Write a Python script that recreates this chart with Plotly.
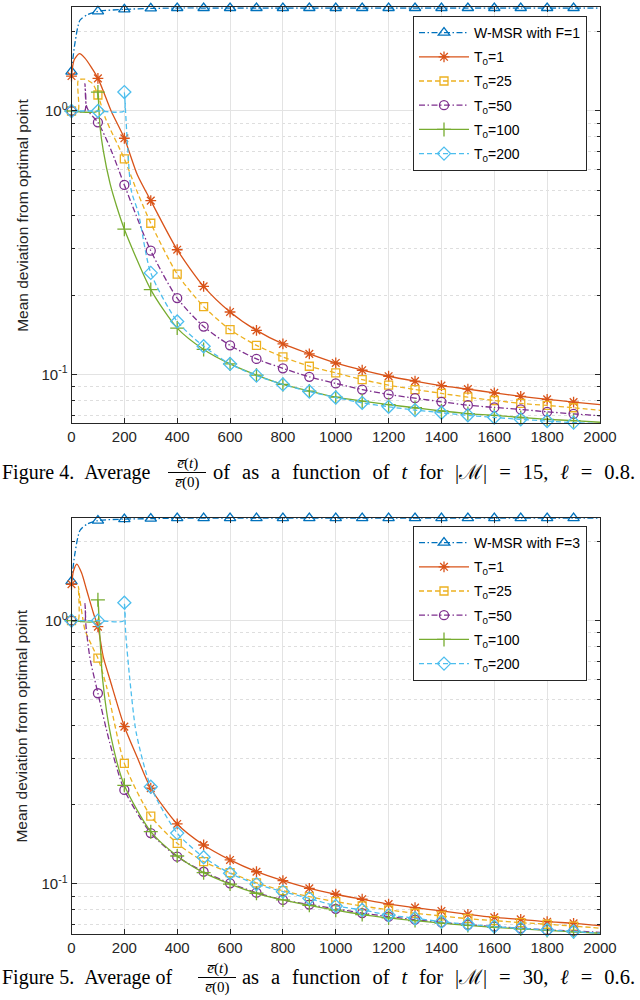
import plotly.graph_objects as go

# sample times on the regular part of the runs
GRID300 = [300, 400, 500, 600, 700, 800, 900, 1000, 1100, 1200,
           1300, 1400, 1500, 1600, 1700, 1800, 1900, 2000]

# ---------------- Figure 4 (|M| = 15, l = 0.8) ----------------
wmsr4_t = [0, 13, 32, 60, 100, 200] + GRID300
wmsr4_y = [1.41, 1.81, 2.21, 2.32, 2.39, 2.43,
           2.45, 2.46, 2.46, 2.46, 2.46, 2.46, 2.46, 2.46, 2.46, 2.46,
           2.46, 2.46, 2.46, 2.46, 2.46, 2.46, 2.46, 2.46]

t1_4_t = [0, 10, 30, 50, 100, 150, 200, 250] + GRID300
t1_4_y = [1.357, 1.56, 1.65, 1.59, 1.33, 1.0, 0.788, 0.57,
          0.457, 0.2975, 0.216, 0.1727, 0.147, 0.1306, 0.1198, 0.1106, 0.1038,
          0.0985, 0.0944, 0.0908, 0.0880, 0.0852, 0.0826, 0.0805, 0.0786, 0.0768]

t25_4_t = [0, 25, 26, 50, 80, 100, 130, 200, 250] + GRID300
t25_4_y = [1.0, 1.0, 1.31, 1.32, 1.27, 1.15, 0.93, 0.658, 0.49,
           0.375, 0.2406, 0.181, 0.148, 0.129, 0.1166, 0.1075, 0.1014, 0.0957,
           0.0911, 0.0877, 0.0848, 0.082, 0.0797, 0.0777, 0.0763, 0.0748, 0.0731]

t50_4_t = [0, 50, 51, 56, 70, 100, 150, 200] + GRID300
t50_4_y = [1.0, 1.0, 1.27, 1.05, 0.98, 0.906, 0.71, 0.524,
           0.295, 0.195, 0.152, 0.129, 0.1146, 0.1056, 0.098, 0.0925, 0.0877,
           0.084, 0.0813, 0.0788, 0.0765, 0.075, 0.0737, 0.0722, 0.0709, 0.0697]

t100_4_t = [0, 99, 100, 108, 120, 146, 171, 200] + GRID300
t100_4_y = [1.0, 1.0, 1.18, 0.87, 0.71, 0.53, 0.434, 0.356,
            0.21, 0.150, 0.1245, 0.1097, 0.0995, 0.0917, 0.0865, 0.082, 0.0793,
            0.0768, 0.0748, 0.0727, 0.0711, 0.070, 0.0687, 0.0676, 0.0668, 0.0659]

t200_4_t = [0, 100, 199, 200, 210, 226, 253] + GRID300
t200_4_y = [1.0, 1.0, 1.0, 1.18, 0.8, 0.5, 0.41,
            0.243, 0.159, 0.128, 0.1097, 0.099, 0.0917, 0.0862, 0.0818, 0.0781,
            0.0754, 0.0733, 0.0716, 0.070, 0.0687, 0.0676, 0.0666, 0.0657, 0.065]

# ---------------- Figure 5 (|M| = 30, l = 0.6) ----------------
wmsr5_t = [0, 13, 32, 60, 100, 200] + GRID300
wmsr5_y = [1.41, 1.8, 2.2, 2.33, 2.40, 2.43,
           2.44, 2.45, 2.45, 2.45, 2.45, 2.45, 2.45, 2.45, 2.45, 2.45,
           2.45, 2.45, 2.45, 2.45, 2.45, 2.45, 2.45, 2.45]

t1_5_t = [0, 8, 20, 38, 57, 83, 100, 120, 146, 200, 249] + GRID300
t1_5_y = [1.375, 1.55, 1.64, 1.52, 1.31, 1.067, 0.949, 0.73, 0.595, 0.396, 0.302,
          0.231, 0.169, 0.1406, 0.1234, 0.1113, 0.1029, 0.0963, 0.0914, 0.0875,
          0.0839, 0.0813, 0.079, 0.0767, 0.0747, 0.0734, 0.0719, 0.0709, 0.0695]

t25_5_t = [0, 25, 26, 32, 44, 51, 83, 100, 133, 200] + GRID300
t25_5_y = [1.0, 1.0, 1.35, 1.2, 1.0, 0.92, 0.78, 0.72, 0.56, 0.287,
           0.181, 0.1427, 0.1216, 0.1104, 0.101, 0.0943, 0.0895, 0.0857, 0.0825,
           0.0797, 0.0774, 0.0756, 0.0738, 0.0726, 0.0713, 0.0703, 0.0692, 0.0679]

t50_5_t = [0, 50, 51, 55, 70, 100, 146, 200] + GRID300
t50_5_y = [1.0, 1.0, 1.16, 0.95, 0.72, 0.53, 0.34, 0.2275,
           0.156, 0.127, 0.1113, 0.1006, 0.0927, 0.087, 0.0835, 0.0805, 0.0775,
           0.0752, 0.0732, 0.0715, 0.07, 0.0689, 0.0679, 0.0669, 0.0663, 0.0655]

t100_5_t = [0, 99, 100, 108, 118, 150, 200] + GRID300
t100_5_y = [1.0, 1.0, 1.2, 0.85, 0.595, 0.36, 0.237,
            0.158, 0.1277, 0.1104, 0.0999, 0.0922, 0.087, 0.083, 0.0795, 0.0765,
            0.0743, 0.0726, 0.071, 0.0696, 0.0685, 0.0675, 0.0666, 0.0658, 0.065]

t200_5_t = [0, 100, 199, 200, 205, 221, 245] + GRID300
t200_5_y = [1.0, 1.0, 1.0, 1.17, 0.9, 0.595, 0.375,
            0.234, 0.156, 0.1263, 0.1098, 0.0999, 0.0935, 0.0882, 0.0825, 0.0797,
            0.0762, 0.0741, 0.0719, 0.0703, 0.0689, 0.0678, 0.0669, 0.066, 0.065]

y_ticks = [0.1, 1]
y_ticktext = ["10<sup>-1</sup>", "10<sup>0</sup>"]
y_minor = [0.07, 0.08, 0.09, 0.2, 0.3, 0.4, 0.5, 0.6, 0.7, 0.8, 0.9, 2]

# name, colour, dash, marker symbol, marker size
styles = [
    ("W-MSR with F={}", "#0072BD", "6px,2.5px,1.5px,2.5px", "triangle-up-open", 10),
    ("T<sub>0</sub>=1", "#D95319", "solid", "asterisk-open", 9),
    ("T<sub>0</sub>=25", "#EDB120", "5px,3px", "square-open", 8),
    ("T<sub>0</sub>=50", "#7E2F8E", "6px,2.5px,1.5px,2.5px", "circle-open", 9),
    ("T<sub>0</sub>=100", "#77AC30", "solid", "cross-thin-open", 10),
    ("T<sub>0</sub>=200", "#4DBEEE", "5px,3px", "diamond-open", 10),
]

panels = [
    dict(f=1, xa="x", ya="y", legend="legend",
         series=[(wmsr4_t, wmsr4_y), (t1_4_t, t1_4_y), (t25_4_t, t25_4_y),
                 (t50_4_t, t50_4_y), (t100_4_t, t100_4_y), (t200_4_t, t200_4_y)]),
    dict(f=3, xa="x2", ya="y2", legend="legend2",
         series=[(wmsr5_t, wmsr5_y), (t1_5_t, t1_5_y), (t25_5_t, t25_5_y),
                 (t50_5_t, t50_5_y), (t100_5_t, t100_5_y), (t200_5_t, t200_5_y)]),
]

W, H = 640, 1000


def px(x):
    return x / W


def py(y):
    return 1 - y / H


fig = go.Figure()
for p in panels:
    for (name, color, dash, sym, msz), (tt, yy) in zip(styles, p["series"]):
        label = name.format(p["f"])
        # the curve itself
        fig.add_trace(go.Scatter(
            x=tt, y=yy, mode="lines", xaxis=p["xa"], yaxis=p["ya"],
            line=dict(color=color, width=1.3, dash=dash, shape="spline", smoothing=0.7),
            showlegend=False, hoverinfo="skip"))
        # markers every 100 steps
        mt = [t for t in tt if t % 100 == 0 and t < 2000]
        my = [v for t, v in zip(tt, yy) if t % 100 == 0 and t < 2000]
        fig.add_trace(go.Scatter(
            x=mt, y=my, mode="markers", xaxis=p["xa"], yaxis=p["ya"],
            marker=dict(symbol=sym, size=msz, color=color, line=dict(color=color, width=1.3)),
            showlegend=False, cliponaxis=False))
        # legend entry
        fig.add_trace(go.Scatter(
            x=[None], y=[None], mode="lines+markers", xaxis=p["xa"], yaxis=p["ya"],
            name=label, legend=p["legend"], legendgroup=p["legend"] + label,
            line=dict(color=color, width=1.3, dash=dash),
            marker=dict(symbol=sym, size=msz, color=color, line=dict(color=color, width=1.3))))

axis_common = dict(
    showline=True, linecolor="#262626", linewidth=1, mirror="ticks",
    ticks="inside", ticklen=5, tickcolor="#262626",
    showgrid=True, gridcolor="#e3e3e3", gridwidth=1, zeroline=False,
    tickfont=dict(family="Liberation Sans, Arial", size=15, color="#262626"),
    automargin=False,
)

x_dom = [px(71.5), px(600)]
xaxis = dict(axis_common, domain=x_dom, range=[0, 2000], dtick=200, tick0=0)
yaxis_extra = dict(type="log", tickvals=y_ticks, ticktext=y_ticktext,
                   minor=dict(tickvals=y_minor, ticks="inside", ticklen=3,
                              tickcolor="#262626", showgrid=True,
                              gridcolor="#dedede", griddash="dot", gridwidth=1))

legend_common = dict(xanchor="left", yanchor="top", bgcolor="white",
                     bordercolor="#262626", borderwidth=1,
                     font=dict(family="Liberation Sans, Arial", size=14, color="black"),
                     itemwidth=50, tracegroupgap=3)

fig.update_layout(
    width=W, height=H, margin=dict(l=0, r=0, t=0, b=0),
    paper_bgcolor="white", plot_bgcolor="white",
    xaxis=dict(xaxis, anchor="y"),
    xaxis2=dict(xaxis, anchor="y2"),
    yaxis=dict(axis_common, **yaxis_extra, anchor="x",
               domain=[py(423), py(7.3)], range=[-1.184, 0.3935]),
    yaxis2=dict(axis_common, **yaxis_extra, anchor="x2",
                domain=[py(934), py(517.7)], range=[-1.19, 0.391]),
    legend=dict(legend_common, x=px(413), y=py(16)),
    legend2=dict(legend_common, x=px(413), y=py(526)),
)

# y axis titles
for yc in [(7.3 + 423) / 2, (517.7 + 934) / 2]:
    fig.add_annotation(x=px(21.7), y=py(yc), xref="paper", yref="paper",
                       text="Mean deviation from optimal point", textangle=-90,
                       showarrow=False, xanchor="center", yanchor="middle",
                       font=dict(family="Liberation Sans, Arial", size=15.5, color="#262626"))

# captions (wide word spacing as in the typeset original)
serif = "Liberation Serif, Times New Roman, serif"
sp = "\u00a0\u200a "
captions = [
    dict(y=472, left="Figure 4.\u00a0\u00a0Average", frac_x=187,
         right=sp.join(["of", "as", "a", "function", "of", "<i>t</i>", "for",
                        "|ℳ|", "=", "15,", "<i>ℓ</i>", "=", "0.8."])),
    dict(y=977, left="Figure 5.\u00a0\u00a0Average of", frac_x=217,
         right=sp.join(["as", "a", "function", "of", "<i>t</i>", "for",
                        "|ℳ|", "=", "30,", "<i>ℓ</i>", "=", "0.6."])),
]
for c in captions:
    fig.add_annotation(x=px(0), y=py(c["y"]), xref="paper", yref="paper", text=c["left"],
                       showarrow=False, xanchor="left", yanchor="middle",
                       font=dict(family=serif, size=20, color="black"))
    fig.add_annotation(x=px(637), y=py(c["y"]), xref="paper", yref="paper", text=c["right"],
                       showarrow=False, xanchor="right", yanchor="middle",
                       font=dict(family=serif, size=20.5, color="black"))
    fig.add_annotation(x=px(c["frac_x"]), y=py(c["y"] - 9), xref="paper", yref="paper",
                       text="<i>e̅</i>(<i>t</i>)", showarrow=False,
                       xanchor="center", yanchor="middle",
                       font=dict(family=serif, size=15, color="black"))
    fig.add_annotation(x=px(c["frac_x"]), y=py(c["y"] + 10), xref="paper", yref="paper",
                       text="<i>e̅</i>(0)", showarrow=False,
                       xanchor="center", yanchor="middle",
                       font=dict(family=serif, size=15, color="black"))
    fig.add_shape(type="line", xref="paper", yref="paper",
                  x0=px(c["frac_x"] - 19), x1=px(c["frac_x"] + 19),
                  y0=py(c["y"] + 0.5), y1=py(c["y"] + 0.5),
                  line=dict(color="black", width=1))

fig.write_html("out.html", config={"displayModeBar": False},
               post_script="document.body.style.margin='0';")
